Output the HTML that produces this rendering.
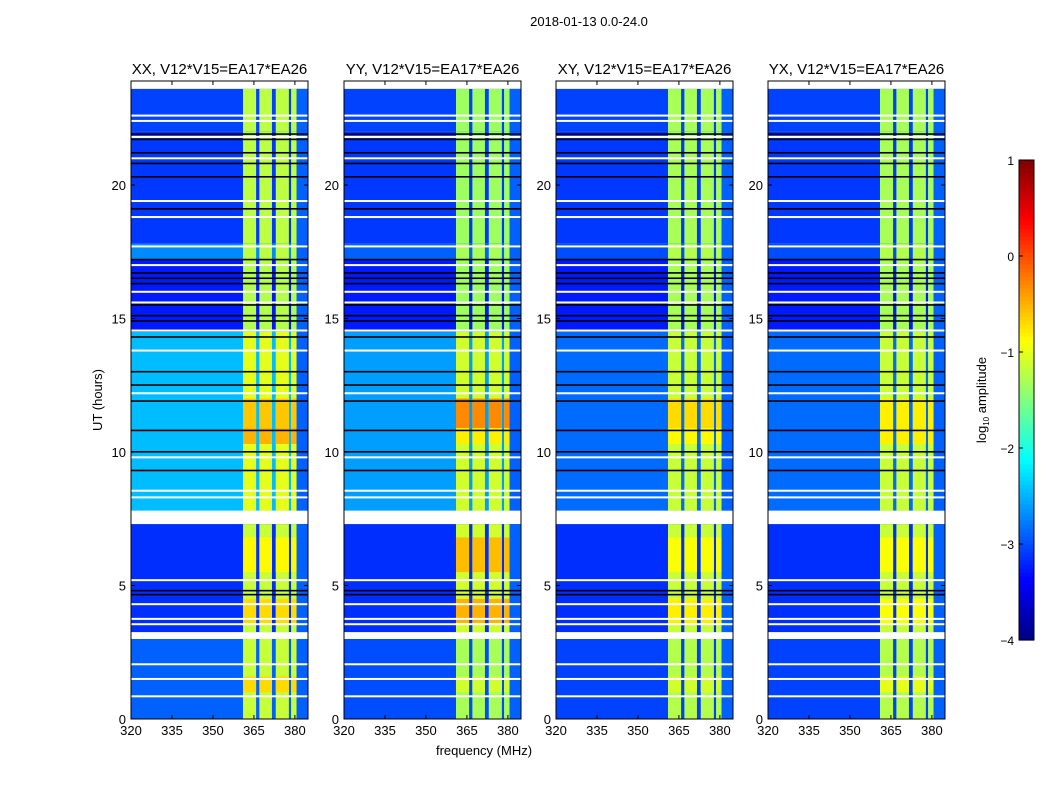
<!DOCTYPE html>
<html><head><meta charset="utf-8"><style>
body{margin:0;background:#fff;font-family:"Liberation Sans",sans-serif;}
svg text{font-family:"Liberation Sans","DejaVu Sans",sans-serif;fill:#000;}
</style></head><body>
<svg id="fig" width="1050" height="800" viewBox="0 0 1050 800" xmlns="http://www.w3.org/2000/svg">
<text x="589" y="26" font-size="13" text-anchor="middle">2018-01-13 0.0-24.0</text>
<text x="484" y="755" font-size="13" text-anchor="middle">frequency (MHz)</text>
<text transform="translate(102,400) rotate(-90)" font-size="13" text-anchor="middle">UT (hours)</text>
<text transform="translate(986,400) rotate(-90)" font-size="13" text-anchor="middle">log<tspan font-size="8" dy="3">10</tspan><tspan dy="-3"> amplitude</tspan></text>
<g id="panels"></g>
<g id="cbar"></g>
</svg>
<script>
const panelTitles=["XX, V12*V15=EA17*EA26","YY, V12*V15=EA17*EA26","XY, V12*V15=EA17*EA26","YX, V12*V15=EA17*EA26"];
const xTicks=[320,335,350,365,380];
const yTicks=[0,5,10,15,20];
const cbTicks=[1,0,-1,-2,-3,-4];
const segStart=[0,3.25,7.8,14.5,17.2,17.8,22.0];
const segEnd=[3.0,7.3,14.5,17.2,17.8,22.0,23.6];
const bgXX=[-2.9,-3.15,-2.45,-3.25,-2.7,-3.1,-3.05];
const bgYY=[-3.0,-3.15,-2.6,-3.25,-2.9,-3.1,-3.05];
const bgXY=[-3.05,-3.15,-2.85,-3.25,-3.0,-3.1,-3.05];
const bgYX=[-3.05,-3.15,-2.85,-3.25,-3.0,-3.1,-3.05];
const bandXX=[-1.15,-1.15,-1.0,-1.25,-1.2,-1.2,-1.2];
const bandYY=[-1.3,-1.1,-1.1,-1.35,-1.3,-1.35,-1.35];
const bandXY=[-1.25,-1.15,-1.15,-1.3,-1.25,-1.3,-1.3];
const bandYX=[-1.25,-1.15,-1.15,-1.3,-1.25,-1.3,-1.3];
const hotStart=[3.6,5.5,10.3,10.9,1.0];
const hotEnd=[4.5,6.8,10.9,12.0,1.6];
const hotXX=[-0.7,-0.85,-0.5,-0.6,-0.7];
const hotYY=[-0.5,-0.55,-0.8,-0.3,-1.1];
const hotXY=[-0.8,-0.9,-0.85,-0.7,-1.1];
const hotYX=[-0.9,-0.9,-0.8,-0.8,-1.0];
const bandLo=[361,367,373,378.6];
const bandHi=[365.8,371.6,377.8,380.6];
const edgeLevel=-2.9;
const whiteFlags=[0.85,1.5,2.05,3.55,3.75,4.3,5.2,7.4,8.3,8.55,9.8,12.2,13.8,14.55,15.6,16.0,17.0,17.7,18.8,19.4,21.0,21.8,22.4,22.6];
const blackFlags=[4.65,4.8,9.3,10.0,10.8,11.9,12.5,13.0,14.3,14.9,15.1,15.5,16.3,16.5,16.7,17.2,19.1,20.3,20.8,21.2,21.7,21.9];
const panelBg=[bgXX,bgYY,bgXY,bgYX];
const panelBand=[bandXX,bandYY,bandXY,bandYX];
const panelHot=[hotXX,hotYY,hotXY,hotYX];

const NS="http://www.w3.org/2000/svg";
const panelX0=[131,344,556,768];
const PW=177,PT=81,PB=719;
const fMin=320,fMax=384.8;
function jet(v){let t=(v+4)/5;t=Math.max(0,Math.min(1,t));
 const r=Math.max(0,Math.min(1,1.5-Math.abs(4*t-3))),g=Math.max(0,Math.min(1,1.5-Math.abs(4*t-2))),b=Math.max(0,Math.min(1,1.5-Math.abs(4*t-1)));
 return `rgb(${Math.round(r*255)},${Math.round(g*255)},${Math.round(b*255)})`;}
function mk(tag,attrs,parent){const e=document.createElementNS(NS,tag);for(const k in attrs)e.setAttribute(k,attrs[k]);parent.appendChild(e);return e;}
const root=document.getElementById('panels');
panelTitles.forEach((title,p)=>{
 const x0=panelX0[p];
 const xs=f=>x0+(f-fMin)/(fMax-fMin)*PW;
 const yh=t=>PB-t*26.7;
 const g=mk('g',{},root);
 
 
 segStart.forEach((s,i)=>{
  const e=segEnd[i];
  const r=mk('rect',{x:x0,y:yh(e),width:PW,height:yh(s)-yh(e),fill:jet(panelBg[p][i])},g);
  
  
  const re=mk('rect',{x:xs(380.6),y:yh(e),width:x0+PW-xs(380.6),height:yh(s)-yh(e),fill:jet(edgeLevel)},g);
  
  
  bandLo.forEach((bl,j)=>{
   const b=mk('rect',{x:xs(bl),y:yh(e),width:xs(bandHi[j])-xs(bl),height:yh(s)-yh(e),fill:jet(panelBand[p][i])},g);
   
   
  });
 });
 hotStart.forEach((s,i)=>{
  const e=hotEnd[i];
  bandLo.forEach((bl,j)=>{
   const b=mk('rect',{x:xs(bl),y:yh(e),width:xs(bandHi[j])-xs(bl),height:yh(s)-yh(e),fill:jet(panelHot[p][i])},g);
   
   
  });
 });
 whiteFlags.forEach(t=>{const l=mk('rect',{x:x0,y:yh(t)-1,width:PW,height:2,fill:'#fff'},g);
  
  });
 const th=[[3.0,3.25],[7.55,7.8]];
 th.forEach(a=>{const l=mk('rect',{x:x0,y:yh(a[1]),width:PW,height:yh(a[0])-yh(a[1]),fill:'#fff'},g);
  
  });
 blackFlags.forEach(t=>{const l=mk('rect',{x:x0,y:yh(t)-1,width:PW,height:1.6,fill:'#000'},g);
  
  });
 const fr=mk('rect',{x:x0,y:PT,width:PW,height:PB-PT,fill:'none',stroke:'#000','stroke-width':1},g);
 
 
 const tt=mk('text',{x:x0+PW/2,y:PT-7,'font-size':15,'text-anchor':'middle'},g);tt.textContent=title;
 
 
 xTicks.forEach(f=>{const x=xs(f);mk('line',{x1:x,x2:x,y1:PB,y2:PB-4,stroke:'#000'},g);mk('line',{x1:x,x2:x,y1:PT,y2:PT+4,stroke:'#000'},g);
  const t=mk('text',{x:x,y:PB+16,'font-size':13,'text-anchor':'middle'},g);t.textContent=f;
  
  });
 yTicks.forEach(v=>{const y=yh(v);mk('line',{x1:x0,x2:x0+4,y1:y,y2:y,stroke:'#000'},g);mk('line',{x1:x0+PW,x2:x0+PW-4,y1:y,y2:y,stroke:'#000'},g);
  const t=mk('text',{x:x0-5,y:y+5,'font-size':13,'text-anchor':'end'},g);t.textContent=v;
  
  });
});
const cb=document.getElementById('cbar');
const cx=1019,cw=15,cTop=160,cBot=640;
const cy=v=>cBot-(v+4)/5*(cBot-cTop);
for(let i=0;i<120;i++){const v=-4+5*i/120;const r=mk('rect',{x:cx,y:cy(v+5/120),width:cw,height:(cBot-cTop)/120+0.6,fill:jet(v+2.5/120)},cb);
 
 }
const cf=mk('rect',{x:cx,y:cTop,width:cw,height:cBot-cTop,fill:'none',stroke:'#000'},cb);


cbTicks.forEach(v=>{const y=cy(v);mk('line',{x1:cx,x2:cx+4,y1:y,y2:y,stroke:'#000'},cb);
 const t=mk('text',{x:cx-5,y:y+5,'font-size':12,'text-anchor':'end'},cb);t.textContent=(v<0?'\u2212'+(-v):v);
 
 });
</script>
</body></html>
